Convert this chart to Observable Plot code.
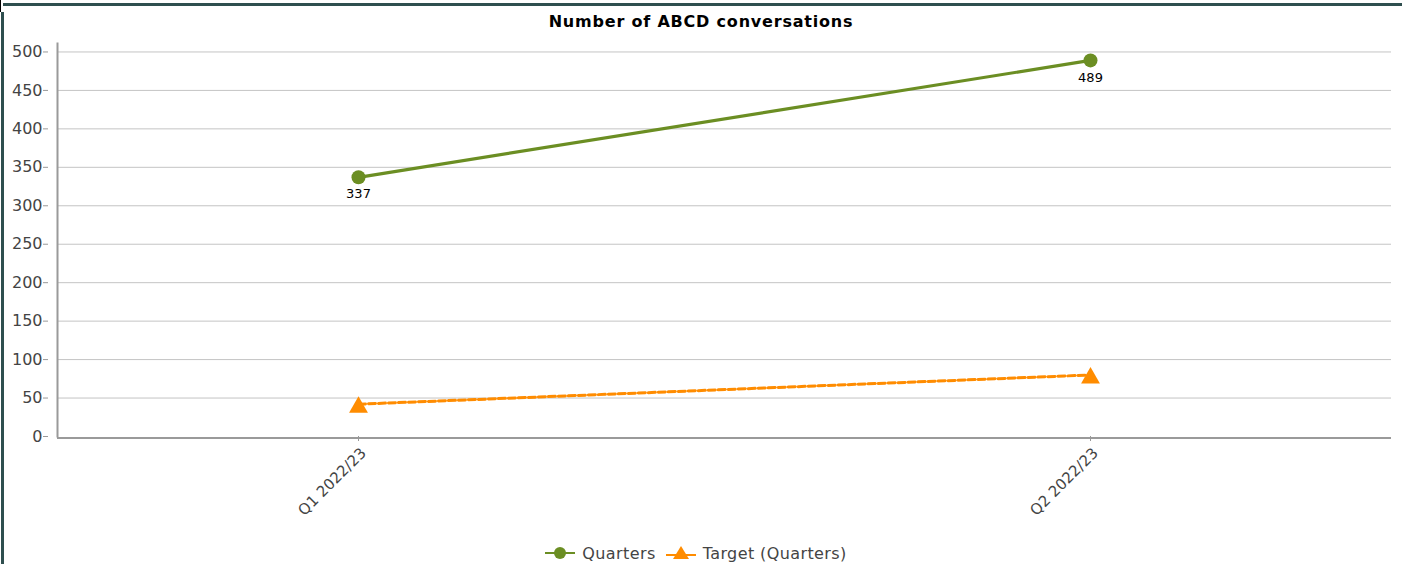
<!DOCTYPE html>
<html>
<head>
<meta charset="utf-8">
<script src="https://cdn.jsdelivr.net/npm/d3@7"></script>
<script src="https://cdn.jsdelivr.net/npm/@observablehq/plot@0.6"></script>
<style>
  html, body { margin: 0; padding: 0; background: #fff; }
  #wrap { position: relative; width: 1402px; height: 564px; overflow: hidden; background: #fff; font-family: "DejaVu Sans", Verdana, sans-serif; }
  .bd { position: absolute; background: #2f4f4f; }
  #title { position: absolute; left: 0; top: 0; width: 1402px; height: 30px; text-align: center; font-weight: bold; font-size: 16px; letter-spacing: 0.8px; line-height: 43px; color: #000; }
  #chart { position: absolute; left: 0; top: 30px; }
  #legend { position: absolute; left: 0; top: 541px; width: 1392px; height: 24px; display: flex; justify-content: center; align-items: center; font-size: 16px; letter-spacing: 0.4px; color: #444; }
  .item { display: flex; align-items: center; margin: 0 5px; }
  .item svg { margin-right: 7px; }
</style>
</head>
<body>
<div id="wrap">
  <div class="bd" style="left:3px;top:3px;width:1399px;height:3px"></div>
  <div class="bd" style="left:1px;top:12px;width:3px;height:552px"></div>
  <div class="bd" style="left:0;top:0;width:1px;height:12px;background:#000"></div>
  <div id="title"></div>
  <div id="chart"></div>
  <div id="legend"></div>
</div>
<script>
const chartTitle = "Number of ABCD conversations";
const categories = ["Q1 2022/23", "Q2 2022/23"];
const quartersValues = [337, 489];
const targetValues = [42, 80];
const seriesNames = ["Quarters", "Target (Quarters)"];
const yTicks = [0, 50, 100, 150, 200, 250, 300, 350, 400, 450, 500];
const yMax = 511;

const green = "#6b8e23";
const orange = "#ff8c00";

const quarters = categories.map((c, i) => ({quarter: c, value: quartersValues[i]}));
const target = categories.map((c, i) => ({quarter: c, value: targetValues[i]}));

document.getElementById("title").textContent = chartTitle;

const plot = Plot.plot({
  width: 1402,
  height: 505,
  marginLeft: 57,
  marginRight: 11,
  marginTop: 13,
  marginBottom: 99,
  style: {fontFamily: "DejaVu Sans, Verdana, sans-serif", background: "transparent", overflow: "visible"},
  x: {type: "point", domain: categories, padding: 0.41, label: null},
  y: {domain: [0, yMax], label: null},
  marks: [
    Plot.gridY(yTicks.filter(t => t > 0), {stroke: "#c4c4c4", strokeOpacity: 1, strokeWidth: 1}),
    Plot.frame({anchor: "left", stroke: "#9a9a9a", strokeWidth: 2}),
    Plot.ruleY([0], {stroke: "#9a9a9a", strokeWidth: 2, dy: 1.5}),
    Plot.axisY(yTicks, {tickSize: 5, tickPadding: 1, dx: -9, fontSize: 16, color: "#444", stroke: "#999", label: null}),
    Plot.axisX({tickRotate: -45, tickSize: 5, tickPadding: 4, dx: 5, dy: 5, fontSize: 15, color: "#444", stroke: "#999", label: null}),
    Plot.line(target, {x: "quarter", y: "value", stroke: orange, strokeWidth: 3, strokeDasharray: "7,3"}),
    Plot.dot(target, {x: "quarter", y: "value", symbol: "triangle", r: 7, fill: orange, stroke: "none", dy: 3}),
    Plot.line(quarters, {x: "quarter", y: "value", stroke: green, strokeWidth: 3.2}),
    Plot.dot(quarters, {x: "quarter", y: "value", r: 7, fill: green, stroke: "none"}),
    Plot.text(quarters, {x: "quarter", y: "value", text: d => String(d.value), dy: 17, fill: "#000", fontSize: 13})
  ]
});
document.getElementById("chart").appendChild(plot);

// the tick marks of the x axis should not move with the label offset
plot.querySelectorAll('[aria-label="x-axis tick"] path').forEach(p => {
  const t = p.getAttribute("transform") || "";
  p.setAttribute("transform", t.replace(/translate\(([^,]+),([^)]+)\)/, (m, a, b) => `translate(${+a - 5},${+b - 5})`));
});

// legend
const legend = document.getElementById("legend");
const swatches = [
  {color: green, shape: "circle"},
  {color: orange, shape: "triangle"}
];
seriesNames.forEach((name, i) => {
  const item = document.createElement("div");
  item.className = "item";
  const s = swatches[i];
  const shape = s.shape === "circle"
    ? `<circle cx="15" cy="8" r="6" fill="${s.color}"/>`
    : `<path d="M15,1 L23,14 L7,14 Z" fill="${s.color}"/>`;
  const ly = s.shape === "circle" ? 8 : 10;
  item.innerHTML = `<svg width="30" height="16"><line x1="0" x2="30" y1="${ly}" y2="${ly}" stroke="${s.color}" stroke-width="2"/>${shape}</svg><span>${name}</span>`;
  legend.appendChild(item);
});
</script>
</body>
</html>
